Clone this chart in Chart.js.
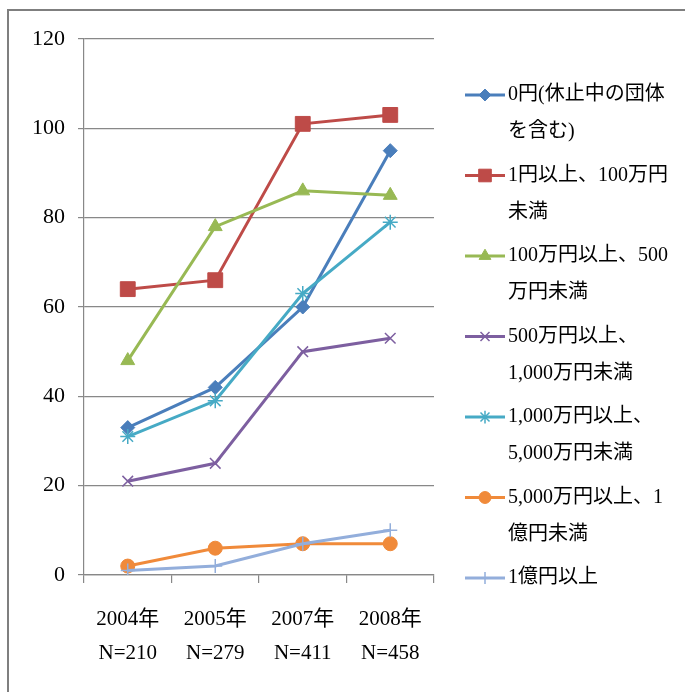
<!DOCTYPE html>
<html><head><meta charset="utf-8">
<script src="https://cdn.jsdelivr.net/npm/chart.js@4.4.1/dist/chart.umd.min.js"></script>
<style>html,body{margin:0;padding:0;background:#fff;}</style>
</head><body>
<canvas id="c" width="685" height="692"></canvas>
<script>
// ---- data ----
const categories = [["2004年", "N=210"], ["2005年", "N=279"], ["2007年", "N=411"], ["2008年", "N=458"]];
const seriesNames = [
  "0円(休止中の団体を含む)",
  "1円以上、100万円未満",
  "100万円以上、500万円未満",
  "500万円以上、1,000万円未満",
  "1,000万円以上、5,000万円未満",
  "5,000万円以上、1億円未満",
  "1億円以上"
];
const legendLines = [
  ["0円(休止中の団体", "を含む)"],
  ["1円以上、100万円", "未満"],
  ["100万円以上、500", "万円未満"],
  ["500万円以上、", "1,000万円未満"],
  ["1,000万円以上、", "5,000万円未満"],
  ["5,000万円以上、1", "億円未満"],
  ["1億円以上"]
];
const zeroYen      = [33, 42, 60, 95];
const under1M      = [64, 66, 101, 103];
const under5M      = [48, 78, 86, 85];
const under10M     = [21, 25, 50, 53];
const under50M     = [31, 39, 63, 79];
const under100M    = [2, 6, 7, 7];
const over100M     = [1, 2, 7, 10];
const yTicks = [0, 20, 40, 60, 80, 100, 120];

// ---- styles ----
const colors = ["#4A7EBB", "#BE4B48", "#98B954", "#7D5FA0", "#46AAC5", "#F08A3A", "#93AEDB"];
const styles = ["rectRot", "rect", "triangle", "crossRot", "star", "circle", "cross"];
const radii  = [7, 10.5, 8, 7.5, 7.5, 7, 7];
const bw     = [1, 1, 1, 1.5, 1.5, 1, 1.5];
const values = [zeroYen, under1M, under5M, under10M, under50M, under100M, over100M];

const datasets = values.map((d, i) => ({
  label: seriesNames[i],
  data: d,
  borderColor: colors[i],
  backgroundColor: colors[i],
  pointBackgroundColor: colors[i],
  pointBorderColor: colors[i],
  pointStyle: styles[i],
  pointRadius: radii[i],
  pointBorderWidth: bw[i],
  borderWidth: 3,
  tension: 0,
  order: 7 - i
}));

const frame = {
  id: 'frame',
  beforeDraw(chart) {
    const ctx = chart.ctx;
    ctx.save();
    ctx.fillStyle = '#fff';
    ctx.fillRect(0, 0, chart.width, chart.height);
    ctx.strokeStyle = '#7f7f7f';
    ctx.lineWidth = 2;
    ctx.beginPath();
    ctx.moveTo(8, 692);
    ctx.lineTo(8, 10);
    ctx.lineTo(685, 10);
    ctx.stroke();
    ctx.restore();
  }
};

const customLegend = {
  id: 'customLegend',
  afterDraw(chart) {
    const ctx = chart.ctx;
    ctx.save();
    ctx.font = '20px "Liberation Serif", "Noto Sans CJK JP"';
    ctx.textBaseline = 'middle';
    ctx.textAlign = 'left';
    legendLines.forEach((lines, i) => {
      const y = 95 + i * 80.5;
      ctx.strokeStyle = colors[i];
      ctx.lineWidth = 3;
      ctx.beginPath();
      ctx.moveTo(465, y);
      ctx.lineTo(505, y);
      ctx.stroke();
      ctx.fillStyle = colors[i];
      ctx.strokeStyle = colors[i];
      ctx.lineWidth = bw[i];
      if (Chart.helpers && Chart.helpers.drawPoint) {
        Chart.helpers.drawPoint(ctx, {pointStyle: styles[i], radius: radii[i] * 0.85, rotation: 0, borderWidth: bw[i]}, 485, y);
      }
      ctx.fillStyle = '#000';
      lines.forEach((t, j) => ctx.fillText(t, 508, y + j * 37));
    });
    ctx.restore();
  }
};

new Chart(document.getElementById('c'), {
  type: 'line',
  data: { labels: categories, datasets },
  plugins: [frame, customLegend],
  options: {
    responsive: false,
    animation: false,
    devicePixelRatio: 1,
    layout: { padding: { left: 0, top: 39, right: 251, bottom: 0 } },
    plugins: { legend: { display: false }, tooltip: { enabled: false } },
    scales: {
      x: {
        type: 'category',
        offset: true,
        afterFit(s) { s.height = 117; },
        grid: { display: true, offset: true, drawOnChartArea: false, drawTicks: true, tickLength: 8, color: '#888', lineWidth: 1.2 },
        border: { display: true, color: '#888', width: 1.2 },
        ticks: { color: '#000', padding: 19, maxRotation: 0, font: { family: '"Liberation Serif", "Noto Sans CJK JP"', size: 21, lineHeight: 1.62 } }
      },
      y: {
        min: 0, max: 120,
        afterFit(s) { s.width = 84; },
        afterBuildTicks(s) { s.ticks = yTicks.map(v => ({ value: v })); },
        grid: { color: '#888', lineWidth: 1.2, drawTicks: true, tickLength: 6 },
        border: { display: true, color: '#888', width: 1.2 },
        ticks: { color: '#000', padding: 13, font: { family: '"Liberation Serif"', size: 22 } }
      }
    }
  }
});
</script>
</body></html>
